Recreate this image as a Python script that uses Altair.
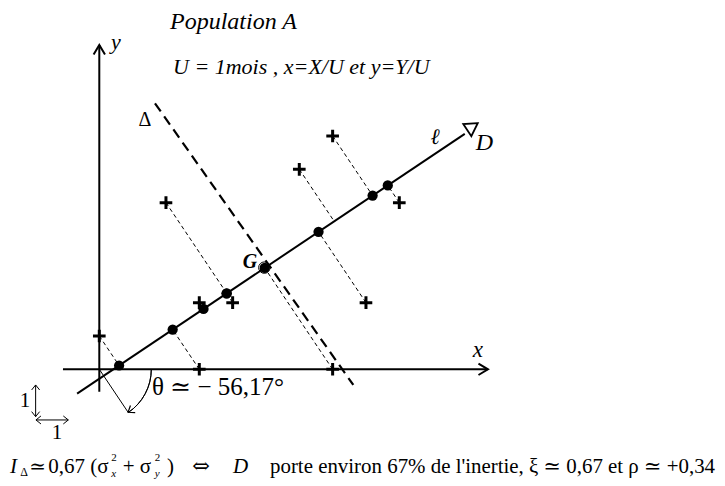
import altair as alt
import pandas as pd
import math

# ---------------- data (in units: U = 1 mois) ----------------
cross_x = [0, 3, 7, 3, 4, 2, 6, 7, 8, 9]
cross_y = [1, 0, 0, 2, 2, 5, 6, 7, 2, 5]
# orthogonal projections on D
proj_x = [0.594, 2.201, 4.962, 3.126, 3.816, 3.824, 7.047, 8.199, 6.577, 8.654]
proj_y = [0.114, 1.191, 3.041, 1.811, 2.274, 2.279, 4.439, 5.211, 4.124, 5.516]
dot_shown = [1, 1, 1, 1, 1, 1, 0, 1, 1, 1]
G = (4.9, 3.0)
theta_deg = -56.17
D_angle = 33.83

# ---------------- layout ----------------
W, H = 709, 455
PAD = {"top": 8, "bottom": 8, "left": 0, "right": 0}
YTOP = 10.599
XD = [-2.739, -2.739 + W * 0.03]
YD = [YTOP - H * 0.03, YTOP]
SERIF = "Liberation Serif, DejaVu Serif, serif"
SYM = "DejaVu Serif, serif"

X = lambda f="x": alt.X(f"{f}:Q", scale=alt.Scale(domain=XD, nice=False, zero=False), axis=None)
Y = lambda f="y": alt.Y(f"{f}:Q", scale=alt.Scale(domain=YD, nice=False, zero=False), axis=None)

pts = pd.DataFrame({"x": cross_x, "y": cross_y, "px": proj_x, "py": proj_y, "show": dot_shown})

layers = []

# axes
axes_df = pd.DataFrame({"x": [-1.09, 0.0], "y": [0.0, -0.67], "x2": [11.66, 0.0], "y2": [0.0, 9.73]})
layers.append(alt.Chart(axes_df).mark_rule(color="black", strokeWidth=2).encode(
    x=X(), y=Y(), x2="x2:Q", y2="y2:Q"))

# axis arrowheads (chevrons)
chev = pd.DataFrame({"x": [11.66, 0.0], "y": [0.0, 9.73], "a": [0, 270]})
layers.append(alt.Chart(chev).mark_point(shape="M-1,-0.6L0,0L-1,0.6", filled=False, color="black",
                                         strokeWidth=2, size=360, opacity=1).encode(
    x=X(), y=Y(), angle=alt.Angle("a:Q", scale=None)))

# projection dashed lines
layers.append(alt.Chart(pts).mark_rule(color="black", strokeWidth=1, strokeDash=[4, 3]).encode(
    x=X(), y=Y(), x2="px:Q", y2="py:Q"))

# Delta dashed line (perpendicular to D)
delta_df = pd.DataFrame({"x": [1.67], "y": [7.98], "x2": [7.62], "y2": [-0.47]})
layers.append(alt.Chart(delta_df).mark_rule(color="black", strokeWidth=2.2, strokeDash=[10, 6]).encode(
    x=X(), y=Y(), x2="x2:Q", y2="y2:Q"))

# line D
ux, uy = math.cos(math.radians(D_angle)), math.sin(math.radians(D_angle))
d_df = pd.DataFrame({"x": [G[0] - 6.7 * ux], "y": [G[1] - 6.7 * uy],
                     "x2": [G[0] + 7.3 * ux], "y2": [G[1] + 7.3 * uy]})
layers.append(alt.Chart(d_df).mark_rule(color="black", strokeWidth=2).encode(
    x=X(), y=Y(), x2="x2:Q", y2="y2:Q"))
tri_df = pd.DataFrame({"x": [G[0] + 7.58 * ux], "y": [G[1] + 7.58 * uy + 0.06]})
layers.append(alt.Chart(tri_df).mark_point(shape="triangle-right", filled=False, color="black",
                                           strokeWidth=1.8, size=210, angle=360 - D_angle, opacity=1).encode(
    x=X(), y=Y()))

# crosses
layers.append(alt.Chart(pts).mark_point(shape="M-1,0H1M0,-1V1", filled=False, color="black",
                                        strokeWidth=3, size=160, opacity=1).encode(x=X(), y=Y()))

# projected dots
layers.append(alt.Chart(pts).transform_filter("datum.show == 1").mark_point(
    shape="circle", filled=True, color="black", size=105, opacity=1).encode(x=X("px"), y=Y("py")))

# G open circle
layers.append(alt.Chart(pd.DataFrame({"x": [G[0] + 0.05], "y": [G[1] + 0.05]})).mark_point(
    shape="circle", filled=False, color="black", strokeWidth=1, size=130, opacity=1).encode(x=X(), y=Y()))

# angle arc
layers.append(alt.Chart(pd.DataFrame({"x": [0.0], "y": [0.0]})).mark_arc(
    fillOpacity=0, stroke="black", strokeWidth=1, radius=52, radius2=52,
    theta=math.pi / 2, theta2=math.pi / 2 + math.radians(-theta_deg)).encode(x=X(), y=Y()))
r = 1.551
ex, ey = r * math.cos(math.radians(theta_deg)), r * math.sin(math.radians(theta_deg))
layers.append(alt.Chart(pd.DataFrame({"x": [0.0], "y": [0.0], "x2": [ex], "y2": [ey]})).mark_rule(
    color="black", strokeWidth=1).encode(x=X(), y=Y(), x2="x2:Q", y2="y2:Q"))
layers.append(alt.Chart(pd.DataFrame({"x": [ex], "y": [ey]})).mark_point(
    shape="M-1,-0.75L0,0L-1,0.75", filled=False, color="black", strokeWidth=1.2, size=130,
    angle=146.2, opacity=1).encode(x=X(), y=Y()))

# unit scale double arrows
unit_df = pd.DataFrame({"x": [-1.91, -1.90], "y": [-0.47, -1.52], "x2": [-1.91, -0.93], "y2": [-1.42, -1.52]})
layers.append(alt.Chart(unit_df).mark_rule(color="black", strokeWidth=1).encode(
    x=X(), y=Y(), x2="x2:Q", y2="y2:Q"))
uchev = pd.DataFrame({"x": [-1.91, -1.91, -1.90, -0.93], "y": [-0.47, -1.42, -1.52, -1.52],
                      "a": [270, 90, 180, 0]})
layers.append(alt.Chart(uchev).mark_point(shape="M-1,-0.8L0,0L-1,0.8", filled=False, color="black",
                                          strokeWidth=1, size=100, opacity=1).encode(
    x=X(), y=Y(), angle=alt.Angle("a:Q", scale=None)))


def txt(t, x, y, size=18, style="normal", weight="normal", align="left", baseline="middle", font=SERIF):
    return alt.Chart(pd.DataFrame({"x": [x], "y": [y], "t": [t]})).mark_text(
        font=font, fontSize=size, fontStyle=style, fontWeight=weight, align=align,
        baseline=baseline, color="black").encode(x=X(), y=Y(), text="t:N")


BY = -2.931
layers += [
    txt("Population A", 2.121, 10.419, 24, "italic"),
    txt("U = 1mois ,  x=X/U et  y=Y/U", 2.211, 9.069, 22, "italic"),
    txt("y", 0.35, 9.81, 22, "italic"),
    txt("x", 11.36, 0.58, 23, "italic", align="center"),
    txt("Δ", 1.371, 7.479, 20, align="center"),
    txt("ℓ", 10.071, 6.969, 22, "italic", align="center"),
    txt("D", 11.55, 6.78, 24, "italic", align="center"),
    txt("G", 4.521, 3.219, 20, "italic", "bold", align="center"),
    txt("θ ≃ − 56,17°", 1.581, -0.531, 25),
    txt("1", -2.229, -0.951, 21, align="center"),
    txt("1", -1.269, -1.911, 21, align="center"),
    # bottom formula
    txt("I", -2.679, BY, 21, "italic"),
    txt("Δ", -2.37, BY - 0.15, 12),
    txt("≃", -2.10, BY, 20, font=SYM),
    txt("0,67 (σ", -1.53, BY, 21),
    txt("2", 0.36, BY + 0.27, 11),
    txt("x", 0.36, BY - 0.2, 11, "italic"),
    txt("+ σ", 0.70, BY, 21),
    txt("2", 1.66, BY + 0.27, 11),
    txt("y", 1.66, BY - 0.2, 11, "italic"),
    txt(")", 2.03, BY, 21),
    txt("⇔", 3.05, BY, 21, font=SYM, align="center"),
    txt("D", 4.011, BY, 21, "italic"),
    txt("porte environ 67% de l'inertie, ξ ≃ 0,67 et  ρ ≃ +0,34", 5.121, BY, 20.9),
]

chart = alt.layer(*layers).properties(
    width=W, height=H, padding=PAD, autosize=alt.AutoSizeParams(type="none")
).configure_view(stroke=None)
chart.save("out.html", embed_options={"renderer": "svg", "actions": False})
